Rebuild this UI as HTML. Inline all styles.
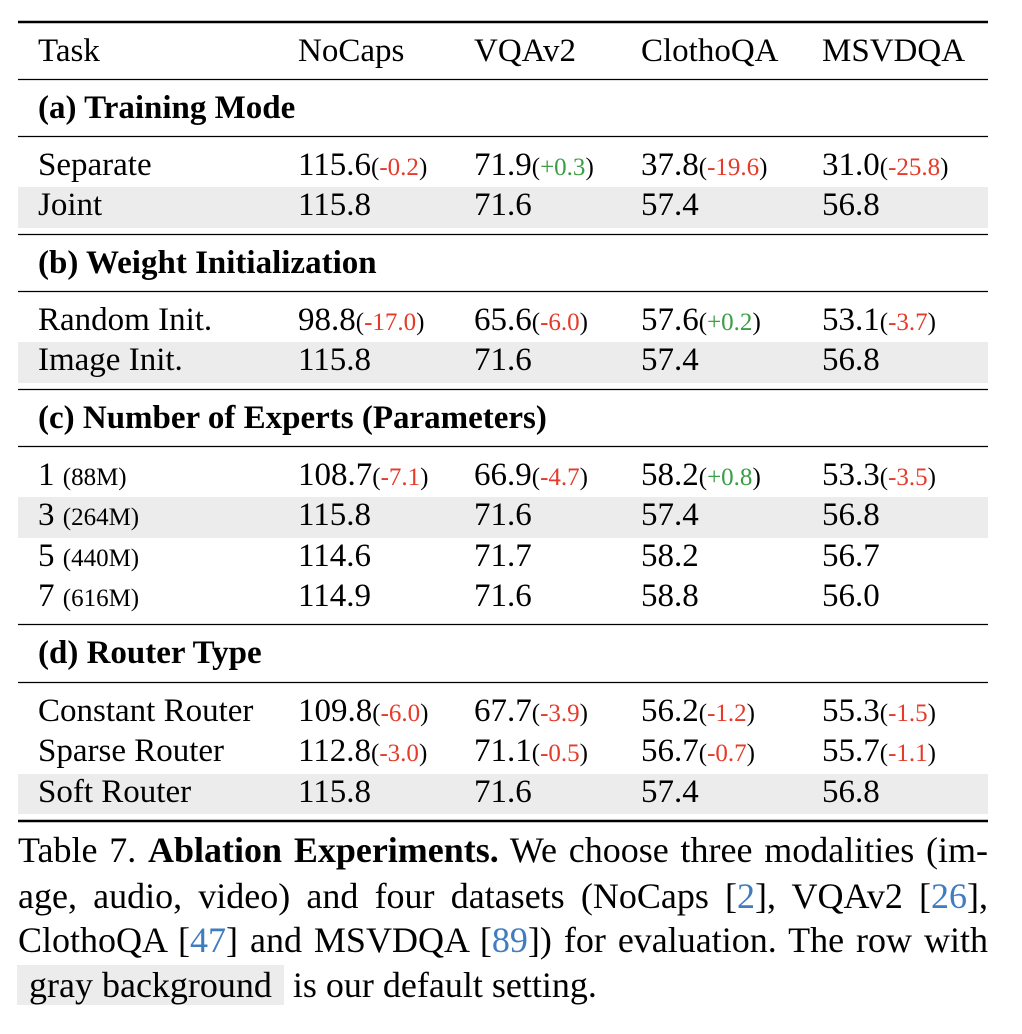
<!DOCTYPE html>
<html><head><meta charset="utf-8"><style>
html,body{margin:0;padding:0;background:#fff;}
body{width:1022px;height:1034px;position:relative;overflow:hidden;font-family:"Liberation Serif",serif;}
svg{position:absolute;left:0;top:0;}
.cap{position:absolute;left:18px;width:970px;font-size:36px;line-height:45px;height:45px;text-align:justify;text-align-last:justify;white-space:nowrap;color:#000;}
.cap.last{text-align-last:left;}
.ref{color:#3f7cc0;}
.hl{background:#ececec;padding:0 12px;margin-left:-1px;}
</style></head><body>
<svg width="1022" height="830" font-family="Liberation Serif, serif">
<g fill="#ececec">
<rect x="18" y="187" width="970" height="41"/>
<rect x="18" y="342" width="970" height="41"/>
<rect x="18" y="497" width="970" height="41"/>
<rect x="18" y="774" width="970" height="40"/>
</g>
<g stroke="#000">
<line x1="18" x2="988" y1="22" y2="22" stroke-width="2.5"/>
<line x1="18" x2="988" y1="79.5" y2="79.5" stroke-width="1.3"/>
<line x1="18" x2="988" y1="136.5" y2="136.5" stroke-width="1.3"/>
<line x1="18" x2="988" y1="234.5" y2="234.5" stroke-width="1.3"/>
<line x1="18" x2="988" y1="291.5" y2="291.5" stroke-width="1.3"/>
<line x1="18" x2="988" y1="389.5" y2="389.5" stroke-width="1.3"/>
<line x1="18" x2="988" y1="446.5" y2="446.5" stroke-width="1.3"/>
<line x1="18" x2="988" y1="624.5" y2="624.5" stroke-width="1.3"/>
<line x1="18" x2="988" y1="682.5" y2="682.5" stroke-width="1.3"/>
<line x1="18" x2="988" y1="821" y2="821" stroke-width="2.5"/>
</g>
<g font-size="33" fill="#000" id="cells"></g>
</svg>
<div class="cap" style="top:828px">Table 7. <b>Ablation Experiments.</b> We choose three modalities (im-</div>
<div class="cap" style="top:874px">age, audio, video) and four datasets (NoCaps [<span class="ref">2</span>], VQAv2 [<span class="ref">26</span>],</div>
<div class="cap" style="top:918px">ClothoQA [<span class="ref">47</span>] and MSVDQA [<span class="ref">89</span>]) for evaluation. The row with</div>
<div class="cap last" style="top:963px"><span class="hl">gray background</span> is our default setting.</div>
<script>
const colX=[38,298,474,641,822];
const headers=["Task","NoCaps","VQAv2","ClothoQA","MSVDQA"];
const sections=[["(a) Training Mode",118],["(b) Weight Initialization",273],["(c) Number of Experts (Parameters)",428],["(d) Router Type",663]];
// rows: [label, small-suffix, baseline, values..., deltas...]
const rows=[
["Separate","",175,["115.6","71.9","37.8","31.0"],["-0.2","+0.3","-19.6","-25.8"]],
["Joint","",215,["115.8","71.6","57.4","56.8"],["","","",""]],
["Random Init.","",330,["98.8","65.6","57.6","53.1"],["-17.0","-6.0","+0.2","-3.7"]],
["Image Init.","",370,["115.8","71.6","57.4","56.8"],["","","",""]],
["1 ","(88M)",485,["108.7","66.9","58.2","53.3"],["-7.1","-4.7","+0.8","-3.5"]],
["3 ","(264M)",525,["115.8","71.6","57.4","56.8"],["","","",""]],
["5 ","(440M)",566,["114.6","71.7","58.2","56.7"],["","","",""]],
["7 ","(616M)",606,["114.9","71.6","58.8","56.0"],["","","",""]],
["Constant Router","",721,["109.8","67.7","56.2","55.3"],["-6.0","-3.9","-1.2","-1.5"]],
["Sparse Router","",761,["112.8","71.1","56.7","55.7"],["-3.0","-0.5","-0.7","-1.1"]],
["Soft Router","",802,["115.8","71.6","57.4","56.8"],["","","",""]]
];
const NS="http://www.w3.org/2000/svg";
const g=document.getElementById('cells');
function txt(x,y,s,opts){const t=document.createElementNS(NS,'text');t.setAttribute('x',x);t.setAttribute('y',y);t.textContent=s;if(opts&&opts.bold)t.setAttribute('font-weight','bold');g.appendChild(t);return t;}
function tsp(t,s,size,fill){const e=document.createElementNS(NS,'tspan');e.textContent=s;if(size)e.setAttribute('font-size',size);if(fill)e.setAttribute('fill',fill);t.appendChild(e);return e;}
headers.forEach((h,i)=>{const t=txt(colX[i],61,h);

});
sections.forEach(s=>{const t=txt(38,s[1],s[0],{bold:true});

});
rows.forEach(r=>{
 const t=txt(38,r[2],r[0]);
 
 
 if(r[1])tsp(t,r[1],25);
 r[3].forEach((v,i)=>{
  const c=txt(colX[i+1],r[2],v);
  
  
  const d=r[4][i];
  if(d){tsp(c,'(',25);tsp(c,d,25,d[0]==='+'?'#3a9e44':'#e63a2a');tsp(c,')',25);}
 });
});
</script>
</body></html>
